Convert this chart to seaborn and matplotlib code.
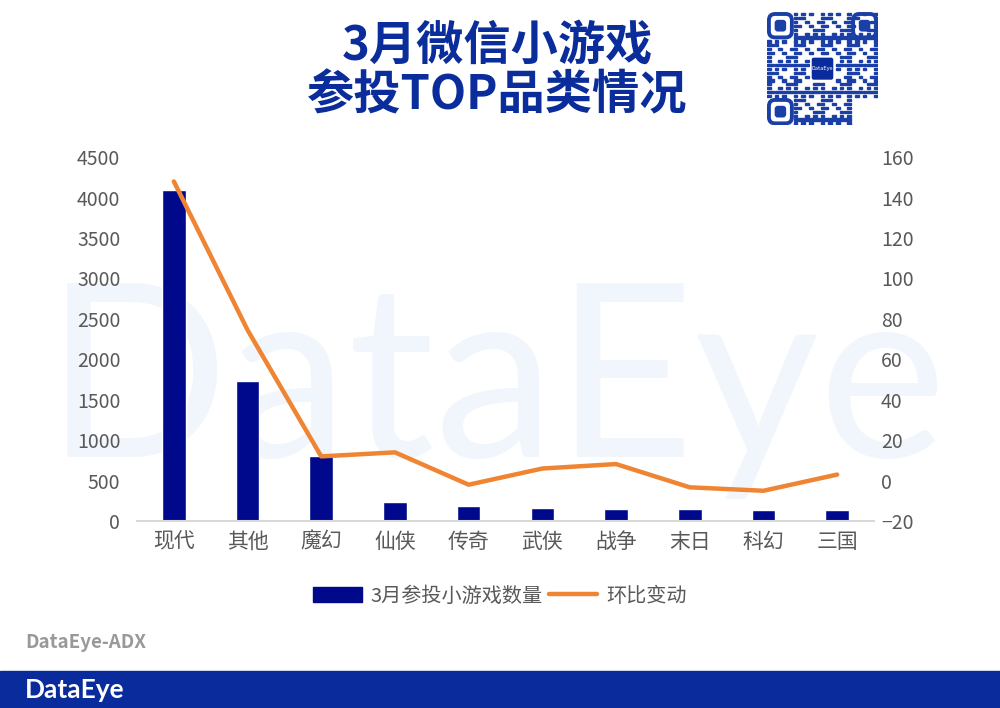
import numpy as np
import pandas as pd
import matplotlib
matplotlib.use("Agg")
import matplotlib.pyplot as plt
import seaborn as sns
from matplotlib.patches import Rectangle, FancyBboxPatch
from matplotlib.lines import Line2D

# data
categories = ['现代', '其他', '魔幻', '仙侠', '传奇', '武侠', '战争', '末日', '科幻', '三国']
game_counts = [4090, 1730, 800, 240, 185, 157, 145, 145, 132, 132]
mom_change = [148, 74.5, 12, 14, -2, 6, 8.2, -3.3, -5, 3]

bar_label = '3月参投小游戏数量'
line_label = '环比变动'

df = pd.DataFrame({'category': categories, 'count': game_counts, 'change': mom_change})

sns.set_theme(style='white')
plt.rcParams['font.family'] = ['Noto Sans CJK SC', 'DejaVu Sans']

BAR_C = '#00098c'
LINE_C = '#ef8533'
TICK_C = '#595959'

fig = plt.figure(figsize=(10, 7.08), dpi=100)
fig.patch.set_facecolor('white')

# faint watermark behind the plot
fig.text(0.496, 0.3545, 'DataEye', ha='center', va='baseline', fontsize=174,
         color='#f1f6fc', family='Lato', fontweight='normal', zorder=-1)

ax = fig.add_axes([0.137, 0.264, 0.737, 0.514])
ax.set_facecolor('none')
sns.barplot(data=df, x='category', y='count', color=BAR_C, width=0.32,
            saturation=1, ax=ax, zorder=2)
ax.set_ylim(0, 4500)
ax.set_yticks(range(0, 4501, 500))
ax.set_xlim(-0.5, 9.5)
ax.set_xlabel('')
ax.set_ylabel('')

ax2 = ax.twinx()
sns.lineplot(data=df, x='category', y='change', color=LINE_C, linewidth=3.2,
             ax=ax2, sort=False)
ax2.set_ylim(-20, 160)
ax2.set_yticks(range(-20, 161, 20))
ax2.set_ylabel('')
ax2.set_xlim(-0.5, 9.5)

for a in (ax, ax2):
    for s in a.spines.values():
        s.set_visible(False)
    a.tick_params(length=0, colors=TICK_C, labelsize=14)
ax.spines['bottom'].set_visible(True)
ax.spines['bottom'].set_color('#d9d9d9')
ax.spines['bottom'].set_linewidth(1.5)
ax.tick_params(axis='y', pad=12)
ax.tick_params(axis='x', pad=7, labelsize=15)
ax2.tick_params(axis='y', pad=5)

# legend
handles = [Rectangle((0, 0), 1, 1, color=BAR_C),
           Line2D([0], [0], color=LINE_C, linewidth=3.2)]
fig.legend(handles, [bar_label, line_label], loc='center', bbox_to_anchor=(0.5, 0.158),
           ncol=2, frameon=False, fontsize=14.5, labelcolor=TICK_C,
           handlelength=2.4, handleheight=0.75, columnspacing=0.3, handletextpad=0.45)

# title
fig.text(0.497, 0.935, '3月微信小游戏', ha='center', va='center', fontsize=34,
         fontweight='bold', color='#0b2d9b')
fig.text(0.497, 0.865, '参投TOP品类情况', ha='center', va='center', fontsize=34,
         fontweight='bold', color='#0b2d9b')

# source and footer
fig.text(0.025, 0.092, 'DataEye-ADX', ha='left', va='center', fontsize=13.5,
         fontweight='bold', color='#999999')
fig.patches.append(Rectangle((0, 0), 1, 37 / 708, transform=fig.transFigure,
                             color='#0a2b9c', zorder=0))
fig.text(0.025, 0.026, 'DataEye', ha='left', va='center', fontsize=19,
         fontweight='bold', color='white', family='Lato')

# QR code decoration
qr = fig.add_axes([0.767, 0.823, 0.111, 0.160])
qr.set_xlim(0, 29)
qr.set_ylim(0, 29)
qr.axis('off')
QR_C = '#1a3fa6'
for i in range(29):
    for j in range(29):
        in_finder = (i < 7 and j < 7) or (i < 7 and j > 21) or (i > 21 and j < 7)
        in_logo = 11 <= i <= 17 and 11 <= j <= 17
        if in_finder or in_logo:
            continue
        if (i * 7 + j * 11 + i * j * 3) % 7 < 3:
            qr.add_patch(Rectangle((j, i + 0.2), 0.95, 0.55, color=QR_C))
for (fx, fy) in [(0, 22), (22, 22), (0, 0)]:
    qr.add_patch(FancyBboxPatch((fx + 0.5, fy + 0.5), 6, 6,
                                boxstyle='round,pad=0,rounding_size=1.6',
                                fc='none', ec=QR_C, lw=2.8))
    qr.add_patch(FancyBboxPatch((fx + 2, fy + 2), 3, 3,
                                boxstyle='round,pad=0,rounding_size=0.8',
                                fc=QR_C, ec='none'))
qr.add_patch(FancyBboxPatch((11.5, 11.5), 6, 6, boxstyle='round,pad=0,rounding_size=0.7',
                            fc='#0a2b9c', ec='white', lw=1))
qr.text(14.5, 14.5, 'DataEye', ha='center', va='center', fontsize=4, color='white')

fig.savefig('out.png', dpi=100)
